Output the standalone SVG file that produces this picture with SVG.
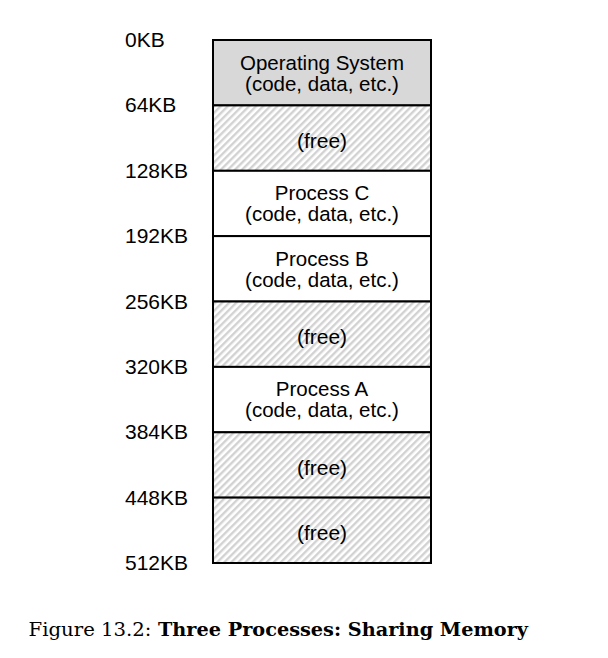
<svg xmlns="http://www.w3.org/2000/svg" width="608" height="658" viewBox="0 0 608 658">
<defs>
<pattern id="hatch" patternUnits="userSpaceOnUse" width="5" height="5" patternTransform="rotate(45)">
<rect width="5" height="5" fill="#ffffff"/>
<rect width="2.4" height="5" fill="#d2d2d2"/>
</pattern>
</defs>
<style>
.seg{stroke:#000;stroke-width:2}
.os{fill:#d8d8d8}
.free{fill:url(#hatch)}
.proc{fill:#ffffff}
.t{font-family:"Liberation Sans",Arial,Helvetica,sans-serif;font-size:21px;fill:#000}
.m{font-size:20.5px}
.c{text-anchor:middle}
.cap{font-family:"DejaVu Serif","Liberation Serif",serif;font-size:19px;fill:#000}
</style>
<rect width="608" height="658" fill="#ffffff"/>
<g id="os">
<rect class="seg os" x="213" y="40" width="218" height="65.4"/>
<text class="t m c" x="322" y="69.5">Operating System</text>
<text class="t m c" x="322" y="90.5">(code, data, etc.)</text>
</g>
<g id="free1">
<rect class="seg free" x="213" y="105.4" width="218" height="65.4"/>
<text class="t c" x="322" y="148">(free)</text>
</g>
<g id="procC">
<rect class="seg proc" x="213" y="170.8" width="218" height="65.4"/>
<text class="t m c" x="322" y="200.3">Process C</text>
<text class="t m c" x="322" y="221.3">(code, data, etc.)</text>
</g>
<g id="procB">
<rect class="seg proc" x="213" y="236.1" width="218" height="65.4"/>
<text class="t m c" x="322" y="265.6">Process B</text>
<text class="t m c" x="322" y="286.6">(code, data, etc.)</text>
</g>
<g id="free2">
<rect class="seg free" x="213" y="301.5" width="218" height="65.4"/>
<text class="t c" x="322" y="344">(free)</text>
</g>
<g id="procA">
<rect class="seg proc" x="213" y="366.9" width="218" height="65.4"/>
<text class="t m c" x="322" y="396.4">Process A</text>
<text class="t m c" x="322" y="417.4">(code, data, etc.)</text>
</g>
<g id="free3">
<rect class="seg free" x="213" y="432.3" width="218" height="65.4"/>
<text class="t c" x="322" y="475">(free)</text>
</g>
<g id="free4">
<rect class="seg free" x="213" y="497.6" width="218" height="65.4"/>
<text class="t c" x="322" y="540">(free)</text>
</g>
<g id="labels">
<text class="t" x="125" y="47">0KB</text>
<text class="t" x="125" y="112.4">64KB</text>
<text class="t" x="125" y="177.8">128KB</text>
<text class="t" x="125" y="243.1">192KB</text>
<text class="t" x="125" y="308.5">256KB</text>
<text class="t" x="125" y="373.9">320KB</text>
<text class="t" x="125" y="439.3">384KB</text>
<text class="t" x="125" y="504.6">448KB</text>
<text class="t" x="125" y="570">512KB</text>
</g>
<g id="caption">
<text class="cap" x="28.5" y="636" textLength="123" lengthAdjust="spacingAndGlyphs">Figure 13.2:</text>
<text class="cap" x="158" y="636" font-weight="bold" textLength="370" lengthAdjust="spacingAndGlyphs">Three Processes: Sharing Memory</text>
</g>
</svg>
